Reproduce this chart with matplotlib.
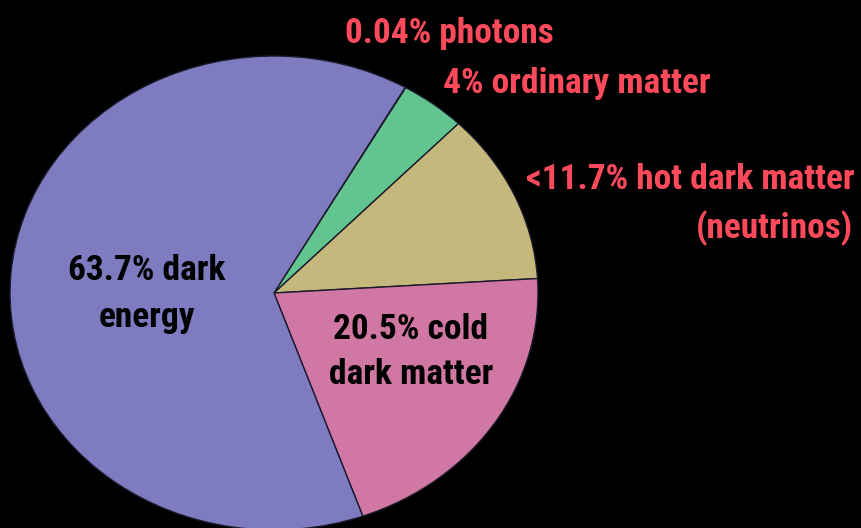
import matplotlib
matplotlib.use("Agg")
import matplotlib.pyplot as plt
from matplotlib import font_manager

# Composition of the universe's energy density (percent)
components = ["photons", "ordinary matter", "hot dark matter", "cold dark matter", "dark energy"]
shares = [0.04, 4.0, 11.7, 20.5, 63.7]
colors = ["#62c48e", "#62c48e", "#c4b87c", "#d077a3", "#7e7bc1"]

outer_labels = ["0.04% photons", "4% ordinary matter", "<11.7% hot dark matter", "(neutrinos)"]
inner_labels = ["63.7% dark\nenergy", "20.5% cold\ndark matter"]

# Pick a narrow sans family if one is installed
installed = {f.name for f in font_manager.fontManager.ttflist}
preferred = ["Roboto Condensed", "DejaVu Sans Condensed", "Open Sans Condensed",
             "Liberation Sans Narrow", "Noto Sans Condensed", "Arial Narrow"]
narrow = [n for n in preferred if n in installed]
fam = narrow[:1] + ["DejaVu Sans"]
stretch = "normal" if narrow else "condensed"

W, H = 862, 528
fig = plt.figure(figsize=(W / 100, H / 100), dpi=100, facecolor="black")
ax = fig.add_axes([0, 0, 1, 1])
ax.set_facecolor("black")

# Pie centre and radii in pixels (the pie is drawn slightly squashed vertically)
cx, cy = 274, 293
rx, ry = 264, 237

ax.pie(shares, colors=colors, startangle=60.2, counterclock=False,
       radius=1.0, center=(0, 0),
       wedgeprops=dict(edgecolor="#1a1a2a", linewidth=1.0))

ax.set_aspect("auto")
ax.set_xlim(-cx / rx, (W - cx) / rx)
ax.set_ylim(-(H - cy) / ry, cy / ry)
ax.axis("off")

red = "#ff4a5c"


def px(x, y):
    return (x - cx) / rx, (cy - y) / ry


fs = 25.5
kw = dict(fontsize=fs, family=fam, fontstretch=stretch, fontweight="bold")
ax.text(*px(345, 33), outer_labels[0], color=red, ha="left", va="center", **kw)
ax.text(*px(443, 83), outer_labels[1], color=red, ha="left", va="center", **kw)
ax.text(*px(855, 180), outer_labels[2], color=red, ha="right", va="center", **kw)
ax.text(*px(853, 228), outer_labels[3], color=red, ha="right", va="center", **kw)

ax.text(*px(147, 294), inner_labels[0], color="black", ha="center", va="center",
        linespacing=1.5, **kw)
ax.text(*px(411, 352), inner_labels[1], color="black", ha="center", va="center",
        linespacing=1.45, **kw)

fig.savefig("out.png", dpi=100, facecolor="black")
